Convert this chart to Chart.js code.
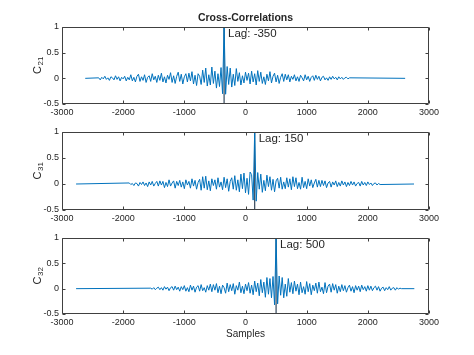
<!DOCTYPE html>
<html>
<head>
<meta charset="utf-8">
<script src="https://cdn.jsdelivr.net/npm/chart.js@4/dist/chart.umd.min.js"></script>
<style>
html,body{margin:0;padding:0;background:#fff;}
#wrap{position:relative;width:474px;height:355px;}
canvas{position:absolute;left:0;top:0;}
</style>
</head>
<body>
<div id="wrap">
<canvas id="c1" width="474" height="355"></canvas>
<canvas id="c2" width="474" height="355"></canvas>
<canvas id="c3" width="474" height="355"></canvas>
</div>
<script>
// ---- data ----
const xTicks = [-3000, -2000, -1000, 0, 1000, 2000, 3000];
const yTicks = [-0.5, 0, 0.5, 1];
const lagLabels = ['Lag: -350', 'Lag: 150', 'Lag: 500'];
const peakLags = [-350, 150, 500];
const lagStep = 25;
const halfSpan = 2050;
const c21Ends = [-2620, 2610];
const c31Ends = [-2770, 2755];
const c32Ends = [-2770, 2760];

const c21 = [
 0.01,-0.03,0.02,-0.01,0.04,-0.02,0.01,-0.04,0.03,0.01,-0.03,0.05,-0.02,0.03,-0.05,0.02,-0.01,0.04,-0.05,0.02,
 -0.03,0.07,-0.05,0.02,-0.07,0.04,0.08,-0.06,0.03,-0.04,0.07,-0.08,0.02,0.05,-0.06,0.09,-0.03,0.04,-0.08,0.06,
 -0.04,0.1,-0.07,0.03,-0.09,0.06,-0.02,0.11,-0.08,0.05,-0.1,0.04,0.12,-0.06,0.08,-0.11,0.03,0.09,-0.07,0.1,
 -0.05,0.13,-0.11,0.06,-0.14,0.09,0.04,-0.12,0.16,-0.08,0.2,-0.15,0.07,-0.13,0.22,-0.1,0.14,-0.19,0.09,-0.16,0.21,-0.3,
 1,
 -0.31,0.23,-0.12,0.2,-0.17,0.08,-0.14,0.19,-0.06,0.11,-0.13,0.05,-0.09,0.12,-0.04,0.1,-0.11,0.14,-0.07,0.09,-0.13,0.15,
 -0.06,0.12,-0.1,0.03,-0.12,0.08,-0.05,0.13,-0.09,0.04,0.1,-0.07,0.06,-0.1,0.02,0.09,-0.06,0.08,-0.03,0.07,
 -0.07,0.04,-0.02,0.07,-0.05,0.03,-0.06,0.06,0.01,-0.05,0.07,-0.03,0.04,-0.06,0.02,0.05,-0.04,0.06,-0.02,0.04,
 -0.05,0.02,0.04,-0.03,0.01,-0.04,0.03,-0.02,0.04,-0.01,0.02,-0.03,0.03,-0.01,0.02,-0.02,0.01,0.02,-0.01,0.01
];
const c31 = [
 0.02,-0.01,0.01,-0.03,0.02,0.01,-0.04,0.03,-0.01,0.04,-0.03,0.02,-0.05,0.04,-0.02,0.05,-0.04,0.01,0.05,-0.04,
 0.06,-0.02,0.05,-0.07,0.03,-0.05,0.08,-0.04,0.02,0.06,-0.08,0.05,-0.03,0.07,-0.06,0.04,-0.09,0.08,-0.02,0.05,
 -0.08,0.1,-0.04,0.07,-0.1,0.03,0.09,-0.12,0.14,-0.08,0.15,-0.11,0.06,-0.13,0.1,-0.03,0.08,-0.1,0.12,-0.06,
 0.04,-0.11,0.13,-0.07,0.1,-0.14,0.05,0.12,-0.1,0.16,-0.12,0.08,-0.15,0.19,-0.09,0.21,-0.17,0.11,-0.2,0.23,0.18,-0.31,
 1,
 -0.33,0.22,-0.1,0.19,-0.16,0.07,-0.13,0.17,-0.05,0.14,-0.12,0.09,-0.15,0.06,0.11,-0.08,0.13,-0.1,0.04,-0.09,0.12,-0.06,
 0.1,-0.11,0.14,-0.05,0.12,-0.09,0.03,-0.1,0.13,-0.07,0.05,-0.09,0.1,-0.04,0.08,-0.07,0.02,0.09,-0.06,0.07,
 -0.05,0.07,-0.03,0.06,-0.07,0.02,0.05,-0.06,0.04,-0.02,0.06,-0.05,0.03,-0.04,0.06,-0.02,0.04,-0.05,0.03,-0.03,
 0.05,-0.02,0.04,-0.04,0.01,0.03,-0.04,0.05,-0.02,0.03,-0.03,0.04,-0.01,0.02,-0.03,0.01,0.02,-0.02,0.01,-0.01
];
const c32 = [
 0.01,-0.01,0.02,-0.02,0.01,0.03,-0.02,0.02,-0.03,0.04,-0.01,0.03,-0.04,0.02,0.04,-0.03,0.05,-0.02,0.03,-0.05,
 0.04,-0.02,0.06,-0.05,0.02,-0.06,0.07,-0.03,0.05,-0.07,0.03,0.06,-0.05,0.08,-0.04,0.02,-0.07,0.06,-0.03,0.09,
 -0.06,0.08,-0.03,0.1,-0.08,0.05,-0.1,0.07,0.02,-0.09,0.11,-0.06,0.08,-0.04,0.1,-0.11,0.06,-0.03,0.13,-0.08,
 0.05,-0.1,0.09,-0.04,0.12,-0.09,0.07,-0.12,0.15,-0.06,0.11,-0.14,0.18,-0.08,0.13,-0.17,0.22,-0.11,0.2,-0.18,0.24,-0.32,
 1,
 -0.3,0.25,-0.13,0.22,-0.18,0.09,-0.15,0.2,-0.07,0.12,-0.1,0.15,-0.05,0.09,-0.12,0.13,-0.08,0.04,-0.11,0.14,-0.06,0.1,
 -0.12,0.07,-0.04,0.11,-0.09,0.13,-0.06,0.03,-0.1,0.12,-0.08,0.05,0.09,-0.07,0.1,-0.03,0.08,-0.09,0.05,-0.06,
 0.08,-0.04,0.06,-0.07,0.02,0.07,-0.05,0.04,-0.08,0.06,-0.03,0.05,-0.06,0.07,-0.02,0.04,-0.05,0.06,-0.03,0.05,
 -0.04,0.02,0.05,-0.03,0.04,-0.05,0.01,0.03,-0.04,0.02,-0.02,0.04,-0.03,0.01,0.02,-0.03,0.02,-0.01,0.01,0
];
const yLabelMain = ['C', 'C', 'C'];
const yLabelSub = ['21', '31', '32'];

// ---- layout ----
const W = 474, H = 355;
const plotLeft = 62, plotRight = 429;
const plotTops = [27, 132, 238];
const plotBottoms = [104, 210, 314];
const xAxisH = 16;
const FONT = '"Liberation Sans", Arial, Helvetica, sans-serif';
const TXT = '#262626';
const AX = '#404040';

function buildPoints(vals, lag, ends) {
  const pts = [{x: ends[0], y: 0}];
  const start = lag - halfSpan;
  vals.forEach((v, i) => pts.push({x: start + i * lagStep, y: v}));
  pts.push({x: ends[1], y: 0});
  return pts;
}

const series = [
  buildPoints(c21, peakLags[0], c21Ends),
  buildPoints(c31, peakLags[1], c31Ends),
  buildPoints(c32, peakLags[2], c32Ends)
];

function makeChart(idx) {
  const lag = peakLags[idx];
  const decor = {
    id: 'decor' + idx,
    afterDraw(chart) {
      const ctx = chart.ctx;
      const a = chart.chartArea;
      const xs = chart.scales.x, ys = chart.scales.y;
      const L = Math.round(a.left) + 0.5, R = Math.round(a.right) - 0.5;
      const T = Math.round(a.top) + 0.5, B = Math.round(a.bottom) - 0.5;
      ctx.save();
      ctx.strokeStyle = AX;
      ctx.lineWidth = 1;
      ctx.beginPath();
      ctx.rect(L, T, R - L, B - T);
      xTicks.forEach(v => {
        const px = Math.round(xs.getPixelForValue(v)) + 0.5;
        ctx.moveTo(px, T); ctx.lineTo(px, T + 3);
        ctx.moveTo(px, B); ctx.lineTo(px, B - 3);
      });
      yTicks.forEach(v => {
        const py = Math.round(ys.getPixelForValue(v)) + 0.5;
        ctx.moveTo(L, py); ctx.lineTo(L + 3, py);
        ctx.moveTo(R, py); ctx.lineTo(R - 3, py);
      });
      ctx.stroke();

      // lag annotation
      ctx.fillStyle = TXT;
      ctx.font = '11.5px ' + FONT;
      ctx.textAlign = 'left';
      ctx.textBaseline = 'middle';
      ctx.fillText(lagLabels[idx], xs.getPixelForValue(lag + 65), ys.getPixelForValue(0.86));

      // y label with subscript
      const cy = (a.top + a.bottom) / 2;
      ctx.translate(40.5, cy);
      ctx.rotate(-Math.PI / 2);
      ctx.textBaseline = 'alphabetic';
      ctx.font = '11px ' + FONT;
      const wMain = ctx.measureText(yLabelMain[idx]).width;
      ctx.font = '8px ' + FONT;
      const wSub = ctx.measureText(yLabelSub[idx]).width;
      const x0 = -(wMain + wSub) / 2;
      ctx.font = '11px ' + FONT;
      ctx.fillText(yLabelMain[idx], x0, 0);
      ctx.font = '8px ' + FONT;
      ctx.fillText(yLabelSub[idx], x0 + wMain + 0.5, 2.5);
      ctx.restore();

      ctx.save();
      ctx.fillStyle = TXT;
      ctx.textAlign = 'center';
      if (idx === 0) {
        ctx.font = 'bold 10.5px ' + FONT;
        ctx.textBaseline = 'middle';
        ctx.fillText('Cross-Correlations', (a.left + a.right) / 2, 18);
      }
      if (idx === 2) {
        ctx.font = '10px ' + FONT;
        ctx.textBaseline = 'middle';
        ctx.fillText('Samples', (a.left + a.right) / 2, 334);
      }
      ctx.restore();
    }
  };

  return new Chart(document.getElementById('c' + (idx + 1)), {
    type: 'line',
    data: {
      datasets: [
        {
          data: series[idx],
          borderColor: '#0072BD',
          borderWidth: 1,
          pointRadius: 0,
          tension: 0,
          fill: false
        },
        {
          data: [{x: lag, y: -0.5}, {x: lag, y: 1}],
          borderColor: '#34475a',
          borderWidth: 1.2,
          pointRadius: 0,
          fill: false
        }
      ]
    },
    options: {
      responsive: false,
      animation: false,
      devicePixelRatio: 1,
      layout: {
        padding: {
          left: 0,
          right: W - plotRight,
          top: plotTops[idx],
          bottom: H - plotBottoms[idx] - xAxisH
        }
      },
      plugins: { legend: { display: false }, tooltip: { enabled: false }, title: { display: false } },
      scales: {
        x: {
          type: 'linear',
          min: -3000, max: 3000,
          afterFit(s) { s.height = xAxisH; },
          afterBuildTicks(s) { s.ticks = xTicks.map(v => ({value: v})); },
          grid: { display: false, drawTicks: false },
          border: { display: false },
          ticks: {
            padding: 3,
            maxRotation: 0,
            autoSkip: false,
            color: TXT,
            font: { family: FONT, size: 9 },
            callback: v => String(v)
          }
        },
        y: {
          type: 'linear',
          min: -0.5, max: 1,
          afterFit(s) { s.width = plotLeft; },
          afterBuildTicks(s) { s.ticks = yTicks.map(v => ({value: v})); },
          grid: { display: false, drawTicks: false },
          border: { display: false },
          ticks: {
            padding: 3,
            autoSkip: false,
            color: TXT,
            font: { family: FONT, size: 9 },
            callback: v => String(v)
          }
        }
      }
    },
    plugins: [decor]
  });
}

makeChart(0);
makeChart(1);
makeChart(2);
</script>
</body>
</html>
